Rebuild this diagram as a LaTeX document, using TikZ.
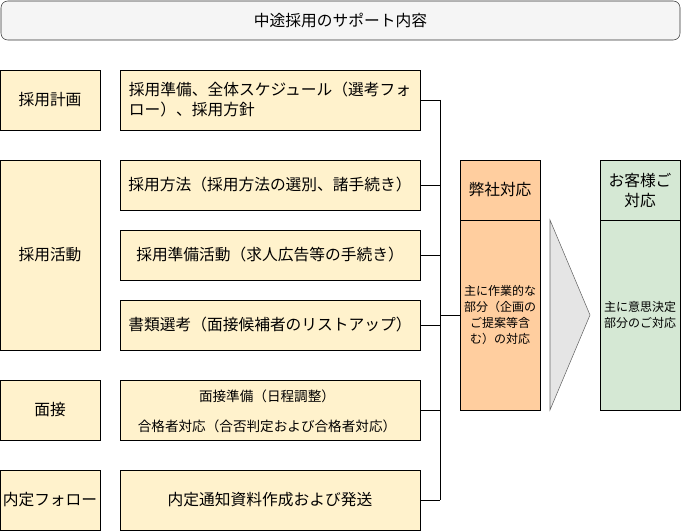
\documentclass[tikz,border=0pt]{standalone}
\usepackage{fontspec}
\setmainfont{Noto Sans CJK JP}
\begin{document}
\begin{tikzpicture}[x=0.75pt,y=-0.75pt,
  yb/.style={draw=black,fill=ylw,inner sep=0,align=center,font=\fontsize{11.8}{15}\selectfont},
  sm/.style={font=\fontsize{9}{12}\selectfont},
  md/.style={font=\fontsize{10.2}{13}\selectfont},
  ln/.style={draw=black,line width=0.6pt}]
\definecolor{ylw}{HTML}{FFF2CC}
\definecolor{org}{HTML}{FFCE9F}
\definecolor{grn}{HTML}{D5E8D4}
\useasboundingbox (0,0) rectangle (681,531);
\node[draw=black!80,fill=black!4,rounded corners=5pt,minimum width=679*0.75pt,minimum height=39*0.75pt,font=\fontsize{11.8}{15}\selectfont] (t) at (340.5,20.5) {中途採用のサポート内容};
\tikzset{bx/.style args={#1/#2/#3/#4}{yb,minimum width=#3*0.75pt,minimum height=#4*0.75pt}}
\node[bx=0/0/100/60] (l1) at (50,100) {採用計画};
\node[bx=0/0/100/190] (l2) at (50,255) {採用活動};
\node[bx=0/0/100/60] (l3) at (50,410) {面接};
\node[bx=0/0/100/60] (l4) at (50,500) {内定フォロー};
\node[bx=0/0/300/60,align=left] (m1) at (270,100) {採用準備、全体スケジュール（選考フォ\\ロー）、採用方針};
\node[bx=0/0/300/50] (m2) at (270,185) {採用方法（採用方法の選別、諸手続き）};
\node[bx=0/0/300/50] (m3) at (270,255) {採用準備活動（求人広告等の手続き）};
\node[bx=0/0/300/50] (m4) at (270,325) {書類選考（面接候補者のリストアップ）};
\node[bx=0/0/300/60] (m5) at (270,410) {};
\node[md] (m5a) at (267,396) {面接準備（日程調整）};
\node[md] (m5b) at (267,426) {合格者対応（合否判定および合格者対応）};
\node[bx=0/0/300/60] (m6) at (270,500) {内定通知資料作成および発送};
\coordinate (j1) at (440,100);
\coordinate (j6) at (440,500);
\draw[ln] (j1) -- (j6);
\foreach \m/\y in {m1/100,m2/185,m3/255,m4/325,m5/410,m6/500} \draw[ln] (\m.east) -- (440,\y);
\node[bx=0/0/80/60,fill=org] (o1) at (500,190) {弊社対応};
\node[bx=0/0/80/190,fill=org,sm] (o2) at (500,315) {主に作業的な\\部分（企画の\\ご提案等含\\む）の対応};
\draw[ln] (440,315) -- (o2.west);
\draw[draw=black!60,fill=black!10] (550,220) -- (590,315) -- (550,410) -- cycle;
\node[bx=0/0/80/60,fill=grn] (g1) at (640,190) {お客様ご\\対応};
\node[bx=0/0/80/190,fill=grn,sm] (g2) at (640,315) {主に意思決定\\部分のご対応};
\end{tikzpicture}
\end{document}
